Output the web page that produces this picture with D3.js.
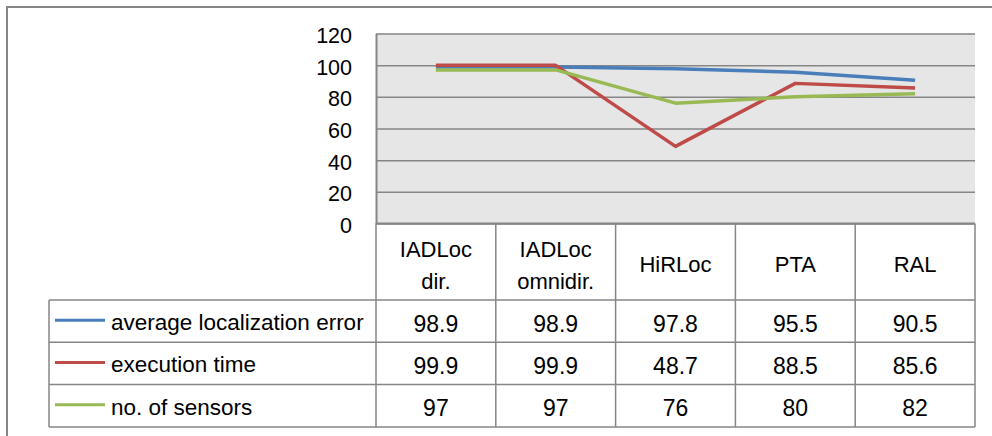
<!DOCTYPE html>
<html>
<head>
<meta charset="utf-8">
<script src="https://cdn.jsdelivr.net/npm/d3@7"></script>
<style>
  body { margin: 0; background: #fff; }
  svg { display: block; font-family: "Liberation Sans", Arial, sans-serif; }
</style>
</head>
<body>
<svg id="chart" width="992" height="436"></svg>
<script>
// data
const categories = ["IADLoc dir.", "IADLoc omnidir.", "HiRLoc", "PTA", "RAL"];
const seriesNames = ["average localization error", "execution time", "no. of sensors"];
const avgError = [98.9, 98.9, 97.8, 95.5, 90.5];
const execTime = [99.9, 99.9, 48.7, 88.5, 85.6];
const sensors = [97, 97, 76, 80, 82];
const yTicks = [0, 20, 40, 60, 80, 100, 120];

const colors = ["#4a7ebb", "#be4b48", "#98b954"];
const series = [avgError, execTime, sensors].map((v, i) => ({ name: seriesNames[i], values: v, color: colors[i] }));

const grid = "#868686";
let svg = d3.select("#chart");

let plot = { left: 376, right: 975, top: 33.5, bottom: 223.5 };
let tableLeft = 49;
let headerBottom = 300;
let rowH = 42.3;

let x = d3.scaleBand()
    .domain(categories)
    .range([plot.left, plot.right]);

let y = d3.scaleLinear()
    .domain([0, 120])
    .range([plot.bottom, plot.top]);

// outer chart border
svg.append("path")
    .attr("d", "M7,440 V7 H1000")
    .attr("fill", "none")
    .attr("stroke", grid)
    .attr("stroke-width", 2);

// plot area
svg.append("rect")
    .attr("x", plot.left)
    .attr("y", plot.top)
    .attr("width", plot.right - plot.left)
    .attr("height", plot.bottom - plot.top)
    .attr("fill", "#e6e6e6");

// gridlines
svg.append("g")
    .attr("transform", `translate(${plot.left},0)`)
    .call(d3.axisRight(y).tickValues(yTicks).tickSize(plot.right - plot.left).tickFormat(""))
    .call(g => g.select(".domain").remove())
    .call(g => g.selectAll(".tick line").attr("stroke", grid).attr("stroke-width", 1.5));

// y axis
svg.append("g")
    .attr("transform", `translate(${plot.left},0)`)
    .call(d3.axisLeft(y).tickValues(yTicks).tickSize(0).tickPadding(24))
    .call(g => g.select(".domain").attr("stroke", grid).attr("stroke-width", 2))
    .call(g => g.selectAll(".tick text")
        .attr("dy", "0.42em")
        .style("font-size", "21.5px")
        .style("font-family", "'Liberation Sans', Arial, sans-serif")
        .attr("fill", "#000"));

// lines
let line = d3.line()
    .x((d, i) => x(categories[i]) + x.bandwidth() / 2)
    .y(d => y(d));

svg.append("g")
    .selectAll("path")
    .data(series)
    .enter().append("path")
    .attr("d", d => line(d.values))
    .attr("fill", "none")
    .attr("stroke", d => d.color)
    .attr("stroke-width", 3.5)
    .attr("stroke-linejoin", "round");

// data table
let tableBottom = headerBottom + rowH * series.length;
let t = svg.append("g")
    .attr("stroke", grid)
    .attr("stroke-width", 1.5)
    .attr("fill", "none");

// horizontal rules
t.append("line").attr("x1", plot.left).attr("x2", plot.right).attr("y1", plot.bottom).attr("y2", plot.bottom).attr("stroke-width", 2);
series.forEach((s, i) => {
    t.append("line")
        .attr("x1", tableLeft).attr("x2", plot.right)
        .attr("y1", headerBottom + i * rowH).attr("y2", headerBottom + i * rowH);
});
t.append("line").attr("x1", tableLeft).attr("x2", plot.right).attr("y1", tableBottom).attr("y2", tableBottom);

// vertical rules
t.append("line").attr("x1", tableLeft).attr("x2", tableLeft).attr("y1", headerBottom).attr("y2", tableBottom);
categories.forEach(c => {
    t.append("line").attr("x1", x(c)).attr("x2", x(c)).attr("y1", plot.bottom).attr("y2", tableBottom);
});
t.append("line").attr("x1", plot.right).attr("x2", plot.right).attr("y1", plot.bottom).attr("y2", tableBottom);

// header labels
let header = svg.append("g")
    .style("font-size", "22px")
    .attr("text-anchor", "middle")
    .attr("fill", "#000");

categories.forEach(c => {
    let parts = c.split(" ");
    let cx = x(c) + x.bandwidth() / 2;
    let text = header.append("text").attr("x", cx);
    if (parts.length === 1) {
        text.attr("y", 272).text(c);
    } else {
        parts.forEach((p, k) => {
            text.append("tspan").attr("x", cx).attr("y", 257 + k * 31.5).text(p);
        });
    }
});

// legend rows and values
series.forEach((s, i) => {
    let cy = headerBottom + i * rowH + rowH / 2;
    svg.append("line")
        .attr("x1", 55).attr("x2", 105)
        .attr("y1", cy - 1).attr("y2", cy - 1)
        .attr("stroke", s.color)
        .attr("stroke-width", 3);
    svg.append("text")
        .attr("x", 111)
        .attr("y", cy + 9)
        .style("font-size", "22.5px")
        .attr("fill", "#000")
        .text(s.name);
    svg.append("g")
        .selectAll("text")
        .data(s.values)
        .enter().append("text")
        .attr("x", (d, k) => x(categories[k]) + x.bandwidth() / 2)
        .attr("y", cy + 10.5)
        .attr("text-anchor", "middle")
        .style("font-size", "23px")
        .attr("fill", "#000")
        .text(d => d);
});
</script>
</body>
</html>
